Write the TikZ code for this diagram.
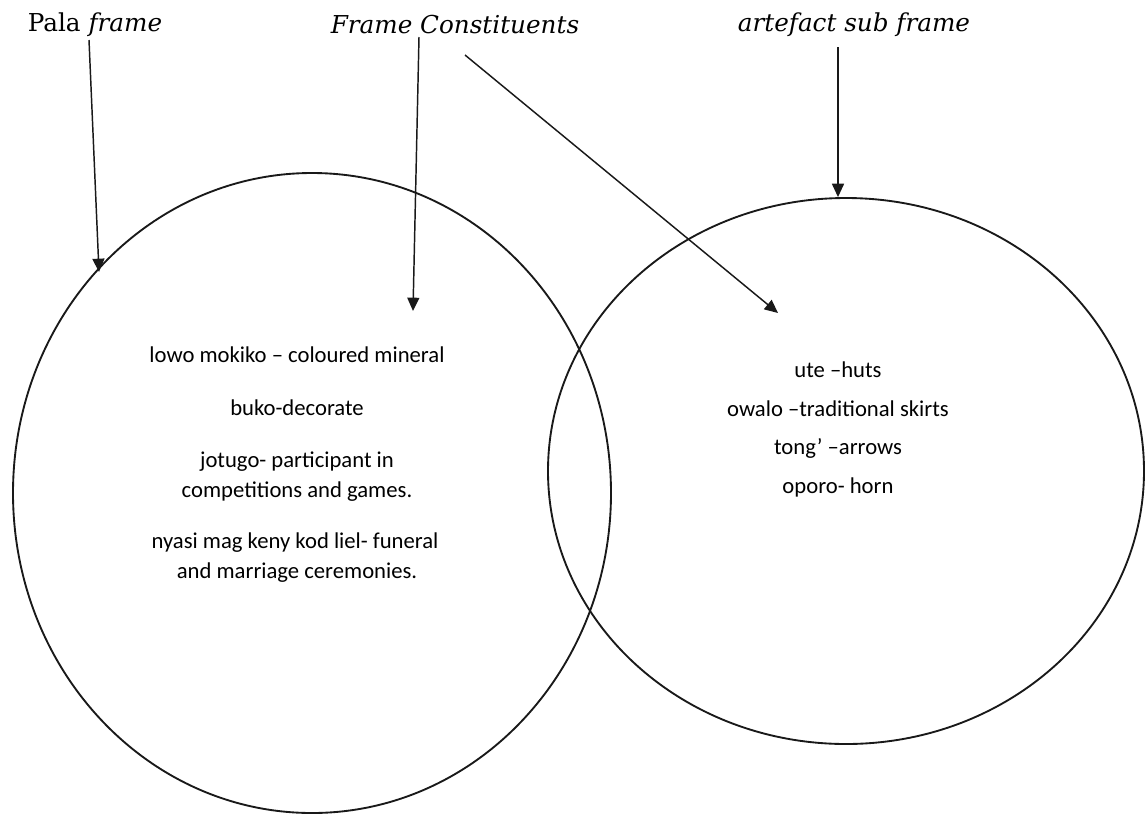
\documentclass[tikz,border=0pt]{standalone}
\usepackage{fontspec}
\setmainfont{DejaVu Serif}
\newfontfamily\bodyfont{Carlito}
\usetikzlibrary{arrows.meta,shapes.geometric}

\tikzset{
  ring/.style={ellipse, draw=black!90, line width=1.4pt, inner sep=0pt},
  heading/.style={font=\fontsize{18.5}{22}\selectfont, inner sep=0pt},
  entry/.style={font=\bodyfont\fontsize{17}{20}\selectfont, inner sep=0pt},
  pointer/.style={draw=black!90, line width=1.1pt, -{Triangle[length=10pt,width=9pt]}}
}

\begin{document}
\begin{tikzpicture}[x=0.75pt,y=-0.75pt]
\useasboundingbox (0,0) rectangle (1146,815);

% the two overlapping frames
\node[ring, minimum width=448.5pt, minimum height=480pt] (pala) at (312,493) {};
\node[ring, minimum width=447pt, minimum height=409.5pt] (artefact) at (846,471) {};

% headings
\node[heading] (palalabel) at (95,25) {Pala \textit{frame}};
\node[heading] (constlabel) at (455,25) {\textit{Frame Constituents}};
\node[heading] (artlabel) at (854,25) {\textit{artefact sub frame}};

% contents of the Pala frame
\node[entry] (l1) at (297,355) {lowo mokiko – coloured mineral};
\node[entry] (l2) at (297,408) {buko-decorate};
\node[entry] (l3) at (297,462) {jotugo- participant in};
\node[entry] (l4) at (297,492) {competitions and games.};
\node[entry] (l5) at (295,543) {nyasi mag keny kod liel- funeral};
\node[entry] (l6) at (297,573) {and marriage ceremonies.};

% contents of the artefact sub frame
\node[entry] (r1) at (838,370) {ute –huts};
\node[entry] (r2) at (838,409) {owalo –traditional skirts};
\node[entry] (r3) at (838,448) {tong’ –arrows};
\node[entry] (r4) at (838,487) {oporo- horn};

% pointer ends
\coordinate (palastart) at (89,40);
\coordinate (palaend) at (99,272);
\coordinate (conststart) at (419,37);
\coordinate (constend) at (413,311);
\coordinate (diagstart) at (465,55);
\coordinate (diagend) at (778,313);
\coordinate (artstart) at (838,47);

% pointers
\draw[pointer] (palastart) -- (palaend);
\draw[pointer] (conststart) -- (constend);
\draw[pointer] (diagstart) -- (diagend);
\draw[pointer] (artstart) -- (artstart |- artefact.north);
\end{tikzpicture}
\end{document}
